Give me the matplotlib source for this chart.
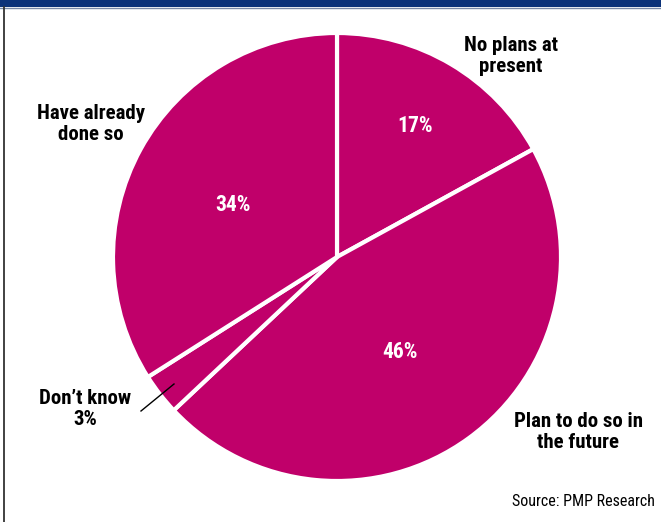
import matplotlib
matplotlib.use("Agg")
import matplotlib.pyplot as plt
from matplotlib import font_manager
from matplotlib.patches import Rectangle
from matplotlib.lines import Line2D

categories = ["No plans at\npresent", "Plan to do so in\nthe future", "Don't know", "Have already\ndone so"]
values = [17, 46, 3, 34]

names = {f.name for f in font_manager.fontManager.ttflist}
FONT = "Liberation Sans Narrow" if "Liberation Sans Narrow" in names else "Roboto Condensed" if "Roboto Condensed" in names else "Liberation Sans"

W, H = 661, 522
fig = plt.figure(figsize=(W / 100, H / 100), dpi=100)
fig.patch.set_facecolor("white")

def fx(px):
    return px / W

def fy(py):
    return 1 - py / H

# header band and frame
fig.patches.append(Rectangle((0, fy(7)), 1, 7 / H, transform=fig.transFigure,
                             facecolor="#0b3279", edgecolor="none", zorder=0))
fig.lines.append(Line2D([0, 1], [fy(7.5), fy(7.5)], transform=fig.transFigure,
                       color="#7a8aa8", lw=1))
fig.lines.append(Line2D([fx(4), fx(4)], [fy(7), 0], transform=fig.transFigure,
                        color="#333333", lw=1.3))

cx, cy, r = 337, 257, 224
ax = fig.add_axes([fx(cx - r), fy(cy + r), 2 * r / W, 2 * r / H])
ax.pie(values, startangle=90, counterclock=False, colors=["#c0006a"] * len(values),
       wedgeprops=dict(edgecolor="white", linewidth=3), radius=1)
ax.set_xlim(-1.0, 1.0)
ax.set_ylim(-1.0, 1.0)
ax.set_aspect("equal")
ax.axis("off")

# percentage labels inside slices
pct_pos = {0: (415, 126), 1: (400, 352), 3: (233, 205)}
for i, (px, py) in pct_pos.items():
    fig.text(fx(px), fy(py), f"{values[i]}%", color="white", fontsize=15.5,
             fontweight="bold", family=FONT, ha="center", va="center")

# category labels outside
lab_pos = {0: (511, 56), 1: (578, 432), 3: (91, 124)}
for i, (px, py) in lab_pos.items():
    fig.text(fx(px), fy(py), categories[i], color="black", fontsize=15,
             fontweight="bold", family=FONT, ha="center", va="center",
             linespacing=1.1)
fig.text(fx(85), fy(409), f"Don\u2019t know\n{values[2]}%", color="black", fontsize=15,
         fontweight="bold", family=FONT, ha="center", va="center", linespacing=1.1)
fig.lines.append(Line2D([fx(141), fx(174)], [fy(411), fy(384)], transform=fig.transFigure,
                        color="black", lw=1))

fig.text(fx(655), fy(502), "Source: PMP Research", color="black", fontsize=11.5,
         family=FONT, ha="right", va="center")

fig.savefig("out.png", dpi=100)
